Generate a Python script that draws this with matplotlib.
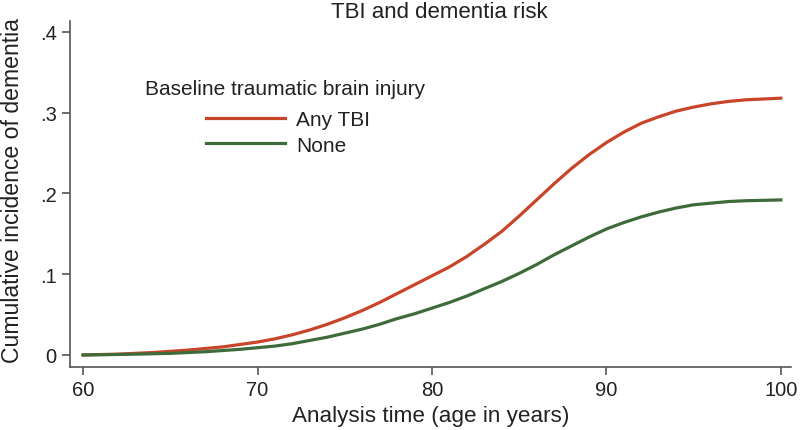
import matplotlib.pyplot as plt

plt.rcParams['font.family'] = ['Liberation Sans', 'DejaVu Sans']

# Data (one value per year)
age = list(range(60, 101))
any_tbi = [0, 0.0005, 0.001, 0.002, 0.003, 0.0045, 0.006, 0.008, 0.010, 0.013,
           0.016, 0.020, 0.025, 0.031, 0.038, 0.046, 0.055, 0.065, 0.076, 0.087,
           0.098, 0.109, 0.122, 0.137, 0.153, 0.172, 0.192, 0.212, 0.231, 0.248,
           0.263, 0.276, 0.287, 0.295, 0.302, 0.307, 0.311, 0.314, 0.316, 0.317,
           0.318]
no_tbi = [0, 0.0003, 0.0006, 0.001, 0.0015, 0.002, 0.003, 0.004, 0.0055, 0.007,
          0.009, 0.011, 0.014, 0.018, 0.022, 0.027, 0.032, 0.038, 0.045, 0.051,
          0.058, 0.065, 0.073, 0.082, 0.091, 0.101, 0.112, 0.124, 0.135, 0.146,
          0.156, 0.164, 0.171, 0.177, 0.182, 0.186, 0.188, 0.190, 0.191, 0.1915,
          0.192]

xticks = [60, 70, 80, 90, 100]
yticks = [0, 0.1, 0.2, 0.3, 0.4]
ytick_labels = ['0', '.1', '.2', '.3', '.4']

txt = '#222222'
fig = plt.figure(figsize=(8, 4.31), dpi=100)
ax = fig.add_axes([0.0875, 0.146, 0.901, 0.803])

ax.plot(age, any_tbi, color='#c8452a', lw=2.3, label='Any TBI')
ax.plot(age, no_tbi, color='#3e6b3a', lw=2.3, label='None')

ax.set_xlim(59.25, 100.57)
ax.set_ylim(-0.015, 0.4136)
ax.set_xticks(xticks)
ax.set_yticks(yticks)
ax.set_yticklabels(ytick_labels)

for s in ['top', 'right']:
    ax.spines[s].set_visible(False)
for s in ['left', 'bottom']:
    ax.spines[s].set_color('#555555')
    ax.spines[s].set_linewidth(1.2)
ax.tick_params(colors='#555555', labelcolor=txt, labelsize=14.5, length=5.5, width=1.2, pad=4)

ax.set_xlabel('Analysis time (age in years)', fontsize=16.2, color=txt, labelpad=4)
ax.set_ylabel('Cumulative incidence of dementia', fontsize=16.6, color=txt)
ax.yaxis.set_label_coords(-0.064, 0.514)
fig.text(439 / 800, 1 - 18 / 431, 'TBI and dementia risk', fontsize=16, color=txt,
         ha='center', va='baseline')

# legend: title drawn separately so the gap above the entries matches
fig.text(145 / 800, 1 - 95 / 431, 'Baseline traumatic brain injury', fontsize=15,
         color=txt, ha='left', va='baseline')
leg = ax.legend(frameon=False, fontsize=15, handlelength=3.75, handletextpad=0.55,
                labelspacing=0.3, borderpad=0, loc='center left',
                bbox_to_anchor=(196 / 800, 1 - 133.5 / 431), bbox_transform=fig.transFigure)
for t in leg.get_texts():
    t.set_color(txt)

plt.savefig('out.png')
